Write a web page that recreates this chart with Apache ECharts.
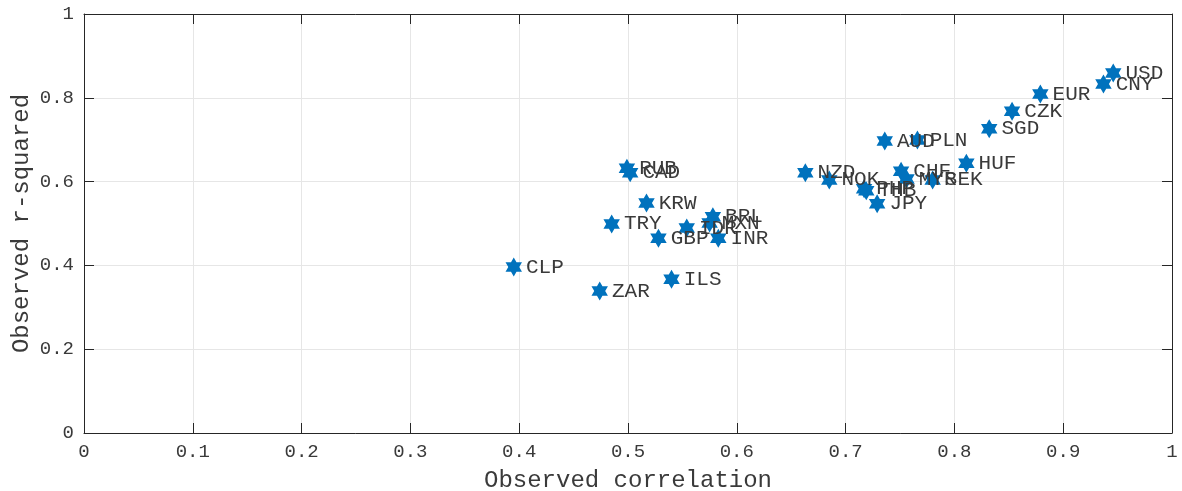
<!DOCTYPE html>
<html lang="en">
  <head>
    <meta charset="UTF-8" />
    <title>Observed correlation vs r-squared</title>
    <style>
      html,
      body {
        width: 100%;
        height: 100%;
        margin: 0;
        overflow: hidden;
        background: #fff;
      }
      #main {
        width: 1182px;
        height: 491px;
      }
    </style>
  </head>
  <body>
    <div id="main"></div>
    <script src="https://cdn.jsdelivr.net/npm/echarts@6/dist/echarts.min.js"></script>
    <script>
      // currencies and their values
      const currencies = [
        "USD", "CNY", "EUR", "CZK", "SGD", "HUF", "PLN", "AUD", "CHF", "MYR",
        "SEK", "NZD", "NOK", "PHP", "THB", "JPY", "RUB", "CAD", "KRW", "TRY",
        "GBP", "IDR", "BRL", "MXN", "INR", "CLP", "ZAR", "ILS"
      ];
      const correlation = [
        0.946, 0.937, 0.879, 0.853, 0.832, 0.811, 0.766, 0.736, 0.751, 0.756,
        0.780, 0.663, 0.685, 0.717, 0.719, 0.729, 0.499, 0.502, 0.517, 0.485,
        0.528, 0.554, 0.578, 0.575, 0.583, 0.395, 0.474, 0.540
      ];
      const rsquared = [
        0.859, 0.833, 0.809, 0.768, 0.726, 0.644, 0.699, 0.697, 0.625, 0.606,
        0.604, 0.621, 0.604, 0.583, 0.578, 0.547, 0.632, 0.621, 0.549, 0.499,
        0.465, 0.489, 0.516, 0.501, 0.465, 0.396, 0.339, 0.367
      ];

      const hexagram =
        "path://M8.66,0L11.547,5L17.32,5L14.434,10L17.32,15L11.547,15L8.66,20L5.773,15L0,15L2.886,10L0,5L5.773,5Z";
      const axisColor = "#262626";
      const textColor = "#3a3a3a";
      const font = "Liberation Mono";

      const points = currencies.map((c, i) => [correlation[i], rsquared[i], c]);

      const boxAxis = {
        min: 0,
        max: 1,
        axisLine: { show: true, onZero: false, lineStyle: { color: axisColor, width: 1 } },
        axisTick: { show: true, inside: true, length: 10, lineStyle: { color: axisColor } },
        axisLabel: { show: false },
        splitLine: { show: false },
      };

      const option = {
        animation: false,
        grid: { left: 84, right: 10, top: 14, bottom: 58, outerBoundsMode: "none", containLabel: false },
        xAxis: [
          {
            type: "value",
            min: 0,
            max: 1,
            interval: 0.1,
            name: "Observed correlation",
            nameLocation: "middle",
            nameGap: 36,
            nameMoveOverlap: false,
            nameTextStyle: { fontFamily: font, fontSize: 24, color: textColor },
            axisLine: { onZero: false, lineStyle: { color: axisColor, width: 1 } },
            axisTick: { inside: true, length: 10, lineStyle: { color: axisColor } },
            axisLabel: { fontFamily: font, fontSize: 19, color: textColor, margin: 9 },
            splitLine: { show: true, lineStyle: { color: "#e6e6e6", width: 1 } },
          },
          Object.assign({ type: "value", position: "top", interval: 0.1 }, boxAxis),
        ],
        yAxis: [
          {
            type: "value",
            min: 0,
            max: 1,
            interval: 0.2,
            name: "Observed r-squared",
            nameLocation: "middle",
            nameGap: 50,
            nameMoveOverlap: false,
            nameTextStyle: { fontFamily: font, fontSize: 24, color: textColor },
            axisLine: { show: true, onZero: false, lineStyle: { color: axisColor, width: 1 } },
            axisTick: { show: true, inside: true, length: 10, lineStyle: { color: axisColor } },
            axisLabel: { fontFamily: font, fontSize: 19, color: textColor, margin: 10 },
            splitLine: { show: true, lineStyle: { color: "#e6e6e6", width: 1 } },
          },
          Object.assign({ type: "value", position: "right", interval: 0.2 }, boxAxis),
        ],
        series: [
          {
            type: "scatter",
            data: points,
            symbol: hexagram,
            symbolSize: 19,
            symbolKeepAspect: true,
            itemStyle: { color: "#0072BD", opacity: 1 },
            label: {
              show: true,
              position: "right",
              distance: 4,
              formatter: (p) => p.value[2],
              fontFamily: font,
              fontSize: 21,
              color: textColor,
            },
            labelLayout: { hideOverlap: false },
            z: 5,
          },
        ],
      };

      const myChart = echarts.init(document.getElementById("main"));
      myChart.setOption(option);
    </script>
  </body>
</html>
